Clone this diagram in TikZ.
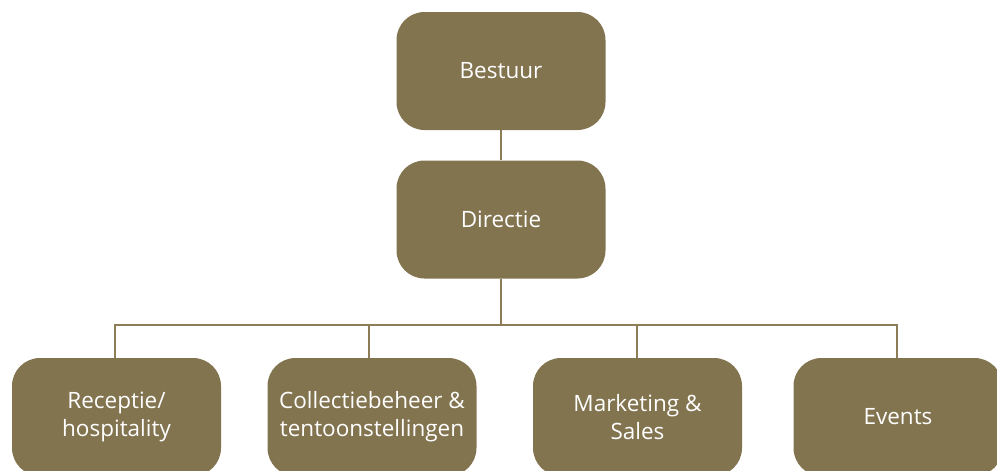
\documentclass[tikz,border=0pt]{standalone}
\usepackage{fontspec}
\setmainfont{Open Sans}
\definecolor{boxfill}{RGB}{131,116,80}
\definecolor{linecol}{RGB}{140,124,88}
\begin{document}
\begin{tikzpicture}[x=1pt,y=-1pt,
  orgbox/.style={draw=none, fill=boxfill, rounded corners=28pt, minimum width=209pt, minimum height=118pt,
    text=white, align=center, inner sep=0pt, font=\fontsize{22.5}{28}\selectfont},
  conn/.style={draw=linecol, line width=2pt}]
\useasboundingbox (0,0) rectangle (997,471);
\node[orgbox] (bestuur) at (501,71) {Bestuur};
\node[orgbox] (directie) at (501,219.5) {Directie};
\node[orgbox] (receptie) at (116.5,417) {Receptie/\\hospitality};
\node[orgbox] (collectie) at (372,417) {Collectiebeheer \&\\tentoonstellingen};
\node[orgbox] (marketing) at (637.5,417) {Marketing \&\\Sales};
\node[orgbox] (events) at (898,417) {Events};
\coordinate (bus) at (501,325);
\coordinate (rtop) at (115,358);
\coordinate (ctop) at (369,358);
\coordinate (mtop) at (637,358);
\coordinate (etop) at (897,358);
\draw[conn] (bestuur.south) -- (directie.north);
\draw[conn] (directie.south) -- (bus);
\draw[conn] (rtop) -- (rtop |- bus) -- (etop |- bus) -- (etop);
\draw[conn] (ctop) -- (ctop |- bus);
\draw[conn] (mtop) -- (mtop |- bus);
\end{tikzpicture}
\end{document}
